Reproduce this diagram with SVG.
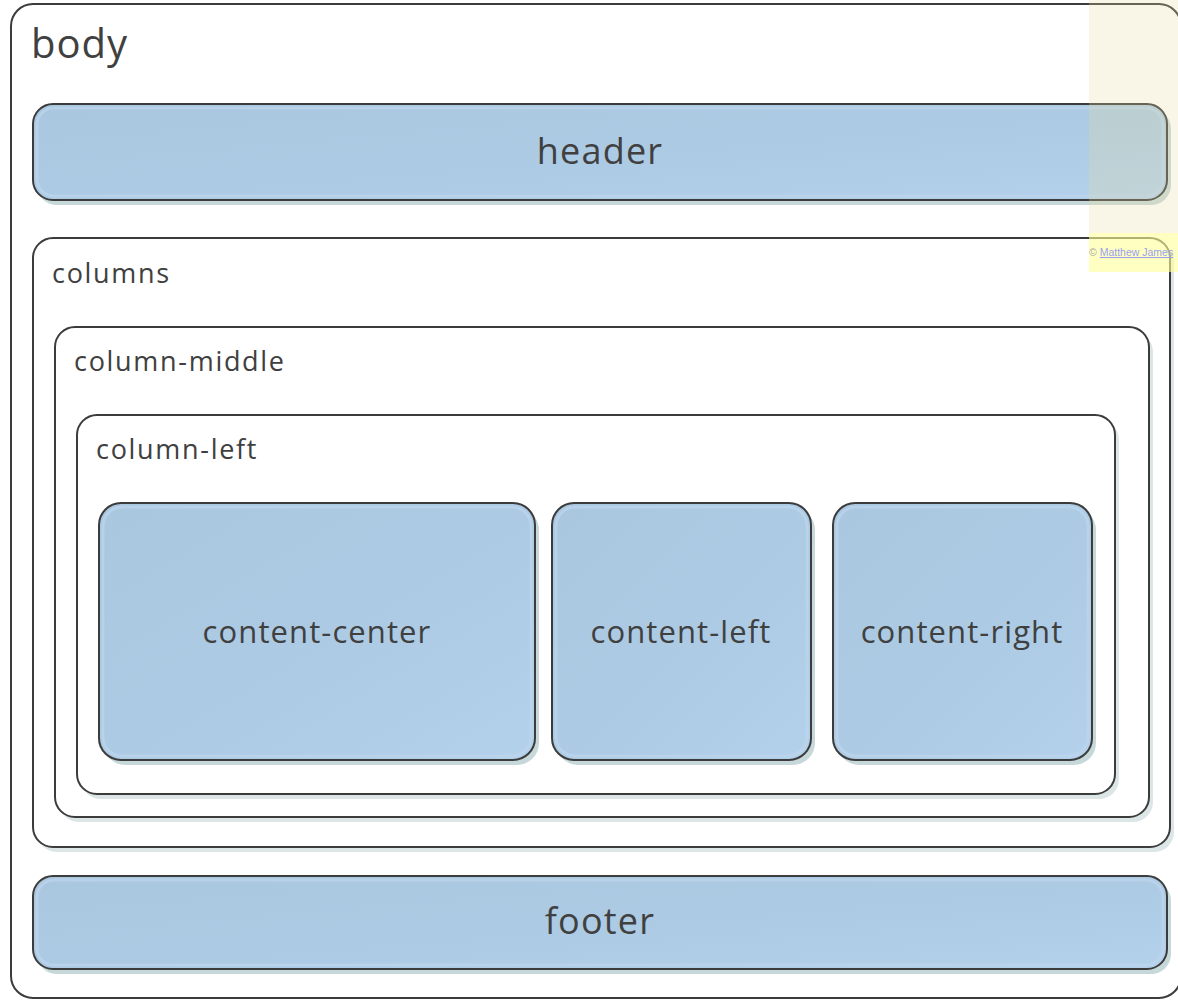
<svg xmlns="http://www.w3.org/2000/svg" width="1178" height="1000" viewBox="0 0 1178 1000">
<defs>
<linearGradient id="blue" x1="0" y1="0" x2="1" y2="1">
<stop offset="0" stop-color="#a9c7df"/>
<stop offset="0.6" stop-color="#adcbe4"/>
<stop offset="1" stop-color="#b4d1ec"/>
</linearGradient>
<style>
.box{fill:#ffffff;stroke:#3c3c3c;stroke-width:2}
.blue{fill:url(#blue);stroke:#3c3c3c;stroke-width:2}
.hl{fill:none;stroke:#bcd6ec;stroke-width:3;opacity:0.7}
.sh{fill:#c6d8d9}
.shw{fill:#dde6e6}
.lbl{font-family:"Open Sans","Noto Sans",sans-serif;fill:#404040}
.ctr{text-anchor:middle}
.sm{font-size:27px;letter-spacing:1.7px}
.mid{font-size:31px;letter-spacing:1.1px}
.big{font-size:36px;letter-spacing:1.2px}
</style>
</defs>
<rect width="1178" height="1000" fill="#ffffff"/>
<g id="body">
<rect class="box" x="11" y="4" width="1170" height="994" rx="22"/>
<text class="lbl" x="31" y="58" font-size="40" letter-spacing="1">body</text>
</g>
<g id="header">
<rect class="sh" x="37" y="109" width="1134" height="96" rx="20"/>
<rect class="blue" x="33" y="104" width="1134" height="96" rx="20"/>
<rect class="hl" x="37" y="108" width="1126" height="88" rx="17"/>
<text class="lbl ctr big" x="600" y="164">header</text>
</g>
<g id="columns">
<rect class="shw" x="37" y="243" width="1137" height="609" rx="20"/>
<rect class="box" x="33" y="238" width="1137" height="609" rx="20"/>
<text class="lbl sm" x="52" y="283">columns</text>
</g>
<g id="column-middle">
<rect class="shw" x="59" y="332" width="1094" height="490" rx="20"/>
<rect class="box" x="55" y="327" width="1094" height="490" rx="20"/>
<text class="lbl sm" x="74" y="371">column-middle</text>
</g>
<g id="column-left">
<rect class="shw" x="81" y="420" width="1038" height="379" rx="20"/>
<rect class="box" x="77" y="415" width="1038" height="379" rx="20"/>
<text class="lbl sm" x="96" y="459">column-left</text>
</g>
<g id="content-center">
<rect class="sh" x="103" y="508" width="436" height="257" rx="22"/>
<rect class="blue" x="99" y="503" width="436" height="257" rx="22"/>
<rect class="hl" x="103" y="507" width="428" height="249" rx="19"/>
<text class="lbl ctr mid" x="317" y="643">content-center</text>
</g>
<g id="content-left">
<rect class="sh" x="556" y="508" width="259" height="257" rx="22"/>
<rect class="blue" x="552" y="503" width="259" height="257" rx="22"/>
<rect class="hl" x="556" y="507" width="251" height="249" rx="19"/>
<text class="lbl ctr mid" x="681" y="643">content-left</text>
</g>
<g id="content-right">
<rect class="sh" x="837" y="508" width="259" height="257" rx="22"/>
<rect class="blue" x="833" y="503" width="259" height="257" rx="22"/>
<rect class="hl" x="837" y="507" width="251" height="249" rx="19"/>
<text class="lbl ctr mid" x="962" y="643">content-right</text>
</g>
<g id="footer">
<rect class="sh" x="37" y="881" width="1134" height="93" rx="20"/>
<rect class="blue" x="33" y="876" width="1134" height="93" rx="20"/>
<rect class="hl" x="37" y="880" width="1126" height="85" rx="17"/>
<text class="lbl ctr big" x="600" y="934">footer</text>
</g>
<g id="credit">
<rect x="1089" y="0" width="89" height="233" fill="#e8dca0" opacity="0.25"/>
<rect x="1089" y="233" width="89" height="39" fill="#ffff99" opacity="0.6"/>
<text x="1089" y="256" font-family="Liberation Sans, sans-serif" font-size="10.5" fill="#9aa0ee"><tspan fill="#aaaaaa">© </tspan><tspan text-decoration="underline">Matthew James</tspan></text>
</g>
<g id="connectors"></g>
</svg>
